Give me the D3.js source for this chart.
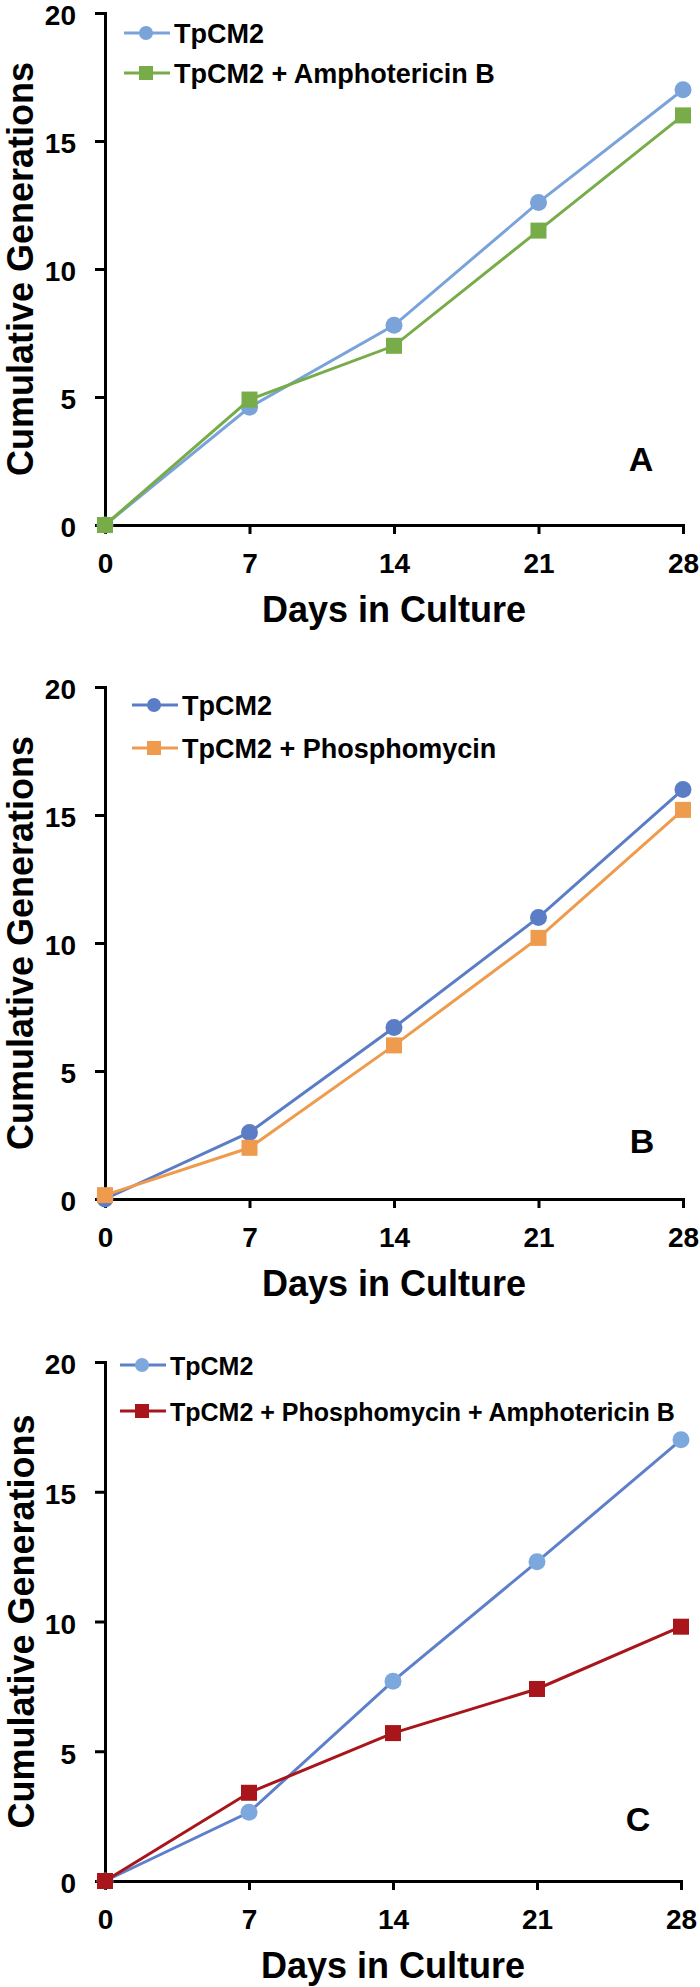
<!DOCTYPE html>
<html>
<head>
<meta charset="utf-8">
<script src="https://cdn.jsdelivr.net/npm/d3@7"></script>
<style>
  body { margin: 0; background: #fff; }
  svg text { font-family: "Liberation Sans", Arial, sans-serif; font-weight: bold; fill: #000; }
</style>
</head>
<body>
<div id="chart"></div>
<script>
const days = [0, 7, 14, 21, 28];
const yTicks = [0, 5, 10, 15, 20];

// panel A
const aControl = [0, 4.6, 7.8, 12.6, 17.0];
const aAmphoB = [0, 4.9, 7.0, 11.5, 16.0];
// panel B
const bControl = [0, 2.6, 6.7, 11.0, 16.0];
const bPhospho = [0.15, 2.0, 6.0, 10.2, 15.2];
// panel C
const cControl = [0, 2.65, 7.7, 12.3, 17.0];
const cCombo = [0, 3.4, 5.7, 7.4, 9.8];

const panels = [
    {top: 13, bottom: 525, left: 105, right: 683, tag: "A", tagX: 641, tagY: 471, titleX: 33,
     legendX: 146, legendY: 33, legendGap: 40, legendSize: 27,
     series: [
        {name: "TpCM2", values: aControl, line: "#7aa3da", fill: "#7aa3da", shape: "circle"},
        {name: "TpCM2 + Amphotericin B", values: aAmphoB, line: "#77ac48", fill: "#77ac48", shape: "square"}
     ]},
    {top: 687, bottom: 1199, left: 105, right: 683, tag: "B", tagX: 642, tagY: 1153, titleX: 33,
     legendX: 154, legendY: 705, legendGap: 43, legendSize: 27,
     series: [
        {name: "TpCM2", values: bControl, line: "#5a7dc5", fill: "#5a7dc5", shape: "circle"},
        {name: "TpCM2 + Phosphomycin", values: bPhospho, line: "#ee9b4e", fill: "#ee9b4e", shape: "square"}
     ]},
    {top: 1362, bottom: 1881, left: 105, right: 681, tag: "C", tagX: 638, tagY: 1831, titleX: 34,
     legendX: 142, legendY: 1365, legendGap: 46, legendSize: 25,
     series: [
        {name: "TpCM2", values: cControl, line: "#5e80ca", fill: "#7da8de", shape: "circle"},
        {name: "TpCM2 + Phosphomycin + Amphotericin B", values: cCombo, line: "#a8151a", fill: "#a8151a", shape: "square"}
     ]}
];

const svg = d3.select("#chart")
    .append("svg")
    .attr("width", 700)
    .attr("height", 1987);

panels.forEach(function (p) {
    const x = d3.scaleLinear().domain([0, 28]).range([p.left, p.right]);
    const y = d3.scaleLinear().domain([0, 20]).range([p.bottom, p.top]);
    const g = svg.append("g");

    const xAxis = g.append("g")
        .attr("transform", `translate(0, ${p.bottom})`)
        .call(d3.axisBottom(x).tickValues(days).tickSize(9).tickPadding(19));
    const yAxis = g.append("g")
        .attr("transform", `translate(${p.left}, 0)`)
        .call(d3.axisLeft(y).tickValues(yTicks).tickSize(10).tickPadding(19));
    yAxis.selectAll(".tick text").attr("dy", "0.42em");

    [xAxis, yAxis].forEach(function (ax) {
        ax.select(".domain").attr("stroke", "#000").attr("stroke-width", 3);
        ax.selectAll(".tick line").attr("stroke", "#000").attr("stroke-width", 3);
        ax.selectAll(".tick text")
            .attr("fill", "#000")
            .style("font-size", "28px")
            .style("font-family", "'Liberation Sans', Arial, sans-serif")
            .style("font-weight", "bold");
    });

    // axis titles
    g.append("text")
        .attr("x", (p.left + p.right) / 2)
        .attr("y", p.bottom + 97)
        .attr("text-anchor", "middle")
        .style("font-size", "36px")
        .text("Days in Culture");
    g.append("text")
        .attr("transform", `translate(${p.titleX}, ${(p.top + p.bottom) / 2}) rotate(-90)`)
        .attr("text-anchor", "middle")
        .style("font-size", "36px")
        .text("Cumulative Generations");

    // panel tag
    g.append("text")
        .attr("x", p.tagX)
        .attr("y", p.tagY)
        .attr("text-anchor", "middle")
        .style("font-size", "34px")
        .text(p.tag);

    const line = d3.line()
        .x(function (d, i) { return x(days[i]); })
        .y(function (d) { return y(d); });

    p.series.forEach(function (s) {
        g.append("path")
            .datum(s.values)
            .attr("fill", "none")
            .attr("stroke", s.line)
            .attr("stroke-width", 3)
            .attr("d", line);

        if (s.shape === "circle") {
            g.selectAll(null)
                .data(s.values)
                .enter()
                .append("circle")
                .attr("cx", function (d, i) { return x(days[i]); })
                .attr("cy", function (d) { return y(d); })
                .attr("r", 8.5)
                .attr("fill", s.fill);
        } else {
            g.selectAll(null)
                .data(s.values)
                .enter()
                .append("rect")
                .attr("x", function (d, i) { return x(days[i]) - 8; })
                .attr("y", function (d) { return y(d) - 8; })
                .attr("width", 16)
                .attr("height", 16)
                .attr("fill", s.fill);
        }
    });

    // legend
    p.series.forEach(function (s, i) {
        const ly = p.legendY + i * p.legendGap;
        const lg = g.append("g");
        lg.append("line")
            .attr("x1", p.legendX - 22)
            .attr("x2", p.legendX + 24)
            .attr("y1", ly)
            .attr("y2", ly)
            .attr("stroke", s.line)
            .attr("stroke-width", 3);
        if (s.shape === "circle") {
            lg.append("circle").attr("cx", p.legendX).attr("cy", ly).attr("r", 7).attr("fill", s.fill);
        } else {
            lg.append("rect").attr("x", p.legendX - 7).attr("y", ly - 7)
                .attr("width", 14).attr("height", 14).attr("fill", s.fill);
        }
        lg.append("text")
            .attr("x", p.legendX + 28)
            .attr("y", ly + 9.5)
            .style("font-size", p.legendSize + "px")
            .text(s.name);
    });
});
</script>
</body>
</html>
